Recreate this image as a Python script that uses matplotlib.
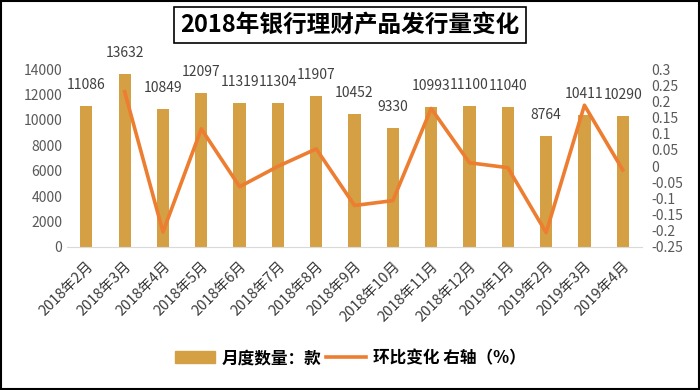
import matplotlib
matplotlib.use('Agg')
import matplotlib.pyplot as plt
from matplotlib.patches import Rectangle

plt.rcParams['font.family'] = ['Noto Sans CJK SC', 'DejaVu Sans']

# data
months = ['2018年2月', '2018年3月', '2018年4月', '2018年5月', '2018年6月', '2018年7月',
          '2018年8月', '2018年9月', '2018年10月', '2018年11月', '2018年12月', '2019年1月',
          '2019年2月', '2019年3月', '2019年4月']
counts = [11086, 13632, 10849, 12097, 11319, 11304, 11907, 10452, 9330, 10993,
          11100, 11040, 8764, 10411, 10290]
# month-on-month change (right axis), first month has no value
mom = [None, 0.230, -0.204, 0.115, -0.064, -0.001, 0.053, -0.122, -0.107, 0.178,
       0.010, -0.005, -0.206, 0.188, -0.012]

bar_color = '#D4A043'
line_color = '#ED7D31'
tick_color = '#595959'

fig = plt.figure(figsize=(7, 3.9), dpi=100)
ax = fig.add_axes([0.096, 0.367, 0.821, 0.456])

x = list(range(len(months)))
ax.bar(x, counts, width=0.32, color=bar_color, zorder=2)
ax.set_ylim(0, 14000)
ax.set_xlim(-0.5, len(months) - 0.5)
ax.set_yticks(range(0, 14001, 2000))
ax.set_xticks(x)
ax.set_xticklabels(months, rotation=45, ha='right', va='top', rotation_mode='anchor')
ax.tick_params(axis='both', length=0, labelsize=10, colors=tick_color)
ax.tick_params(axis='x', pad=9, labelsize=10.5, colors='#3a3a3a')
for s in ['top', 'left', 'right']:
    ax.spines[s].set_visible(False)
ax.spines['bottom'].set_color('#D9D9D9')

for xi, c in zip(x, counts):
    ax.annotate(str(c), (xi, c), xytext=(0, 10), textcoords='offset points',
                ha='center', va='bottom', fontsize=10, color='#404040', zorder=5)

ax2 = ax.twinx()
lx = [xi for xi, v in zip(x, mom) if v is not None]
ly = [v for v in mom if v is not None]
ax2.plot(lx, ly, color=line_color, lw=2.6, zorder=3)
ax2.set_ylim(-0.25, 0.3)
ax2.set_yticks([0.3, 0.25, 0.2, 0.15, 0.1, 0.05, 0, -0.05, -0.1, -0.15, -0.2, -0.25])
ax2.set_yticklabels(['0.3', '0.25', '0.2', '0.15', '0.1', '0.05', '0', '-0.05', '-0.1',
                     '-0.15', '-0.2', '-0.25'])
ax2.tick_params(axis='y', length=0, labelsize=10, colors=tick_color, pad=7)
for s in ['top', 'left', 'right', 'bottom']:
    ax2.spines[s].set_visible(False)

# title in a box
fig.text(0.5, 0.935, '2018年银行理财产品发行量变化', ha='center', va='center',
         fontsize=17, fontweight='bold', color='black',
         bbox=dict(boxstyle='square,pad=0.25', facecolor='white', edgecolor='black', lw=1.2))

# legend
handles = [plt.Rectangle((0, 0), 1, 1, color=bar_color),
           plt.Line2D([0], [0], color=line_color, lw=2.6)]
leg = fig.legend(handles, ['月度数量：款', '环比变化 右轴（%）'], loc='center',
                 bbox_to_anchor=(0.5, 0.082), ncol=2, frameon=False,
                 prop={'size': 12, 'weight': 'bold'}, handlelength=2.4,
                 columnspacing=0.3, handletextpad=0.4)

# outer border
fig.patches.append(Rectangle((0.002, 0.003), 0.996, 0.994, transform=fig.transFigure,
                             fill=False, edgecolor='black', lw=1.5))

fig.savefig('out.png', dpi=100)
